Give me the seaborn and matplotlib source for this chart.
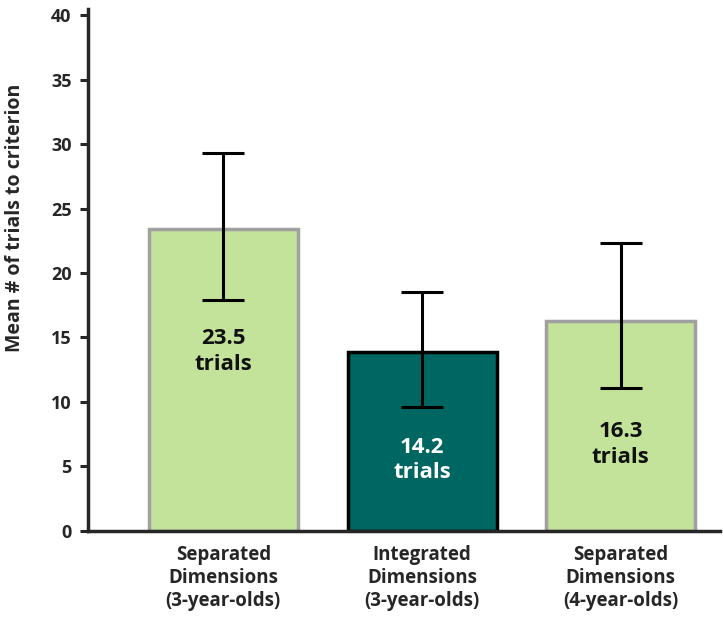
import numpy as np
import pandas as pd
import matplotlib
matplotlib.use("Agg")
import matplotlib.pyplot as plt
import seaborn as sns

# values
groups = ["Separated\nDimensions\n(3-year-olds)",
          "Integrated\nDimensions\n(3-year-olds)",
          "Separated\nDimensions\n(4-year-olds)"]
means = [23.4, 13.9, 16.3]
err_low = [17.9, 9.6, 11.1]
err_high = [29.3, 18.5, 22.3]
bar_labels = ["23.5\ntrials", "14.2\ntrials", "16.3\ntrials"]
label_y = [13.9, 5.5, 6.7]
yticks = [0, 5, 10, 15, 20, 25, 30, 35, 40]

fill_colors = ["#C3E29A", "#006661", "#C3E29A"]
edge_colors = ["#A0A0A0", "#000000", "#A0A0A0"]
text_colors = ["#111111", "#ffffff", "#111111"]

sns.set_style("white")
plt.rcParams["font.family"] = ["Open Sans", "DejaVu Sans"]
plt.rcParams["font.weight"] = "bold"

df = pd.DataFrame({"group": groups, "mean": means})

fig = plt.figure(figsize=(7.23, 6.26), dpi=100)
ax = fig.add_axes([0.122, 0.152, 0.874, 0.834])

sns.barplot(data=df, x="group", y="mean", hue="group", palette=fill_colors,
            saturation=1, width=0.75, legend=False, ax=ax, zorder=2)
for patch, ec in zip(ax.patches, edge_colors):
    patch.set_edgecolor(ec)
    patch.set_linewidth(2.5)

xs = np.arange(len(groups))
m = np.array(means)
yerr = np.vstack([m - np.array(err_low), np.array(err_high) - m])
ax.errorbar(xs, m, yerr=yerr, fmt="none", ecolor="black", elinewidth=2.2,
            capsize=15, capthick=2.2, zorder=3)

for x, y, t, c in zip(xs, label_y, bar_labels, text_colors):
    ax.text(x, y, t, ha="center", va="center", fontsize=16, fontweight="bold",
            color=c, linespacing=1.3, zorder=4)

ax.set_xlim(-0.68, 2.5)
ax.set_ylim(0, 40.5)
ax.set_yticks(yticks)
ax.set_xlabel("")
ax.set_ylabel("Mean # of trials to criterion", fontsize=14, fontweight="bold",
              labelpad=12)
ax.yaxis.set_label_coords(-0.1, 0.6)
ax.tick_params(axis="y", labelsize=13, length=6, width=2.2, left=True,
               direction="out", pad=6)
ax.tick_params(axis="x", labelsize=13.5, length=0, pad=10)
for lab in ax.get_xticklabels() + ax.get_yticklabels():
    lab.set_fontweight("bold")
sns.despine(ax=ax)
ax.spines["left"].set_linewidth(2.5)
ax.spines["bottom"].set_linewidth(2.5)

fig.savefig("out.png", dpi=100)
